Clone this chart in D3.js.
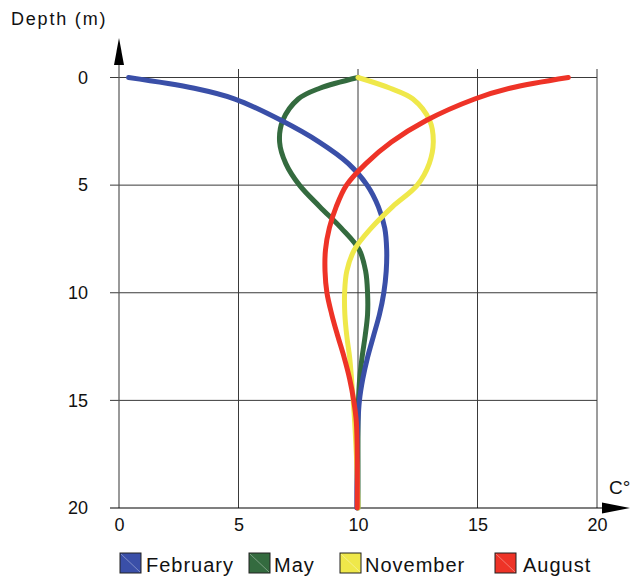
<!DOCTYPE html>
<html>
<head>
<meta charset="utf-8">
<script src="https://cdn.jsdelivr.net/npm/d3@7"></script>
<style>
  html, body { margin: 0; padding: 0; background: #fff; }
  svg { display: block; font-family: "Liberation Sans", Arial, sans-serif; }
</style>
</head>
<body>
<svg id="chart" width="631" height="576"></svg>
<script>
// Water temperature profiles by depth
const depths   = [0, 0.5, 1, 2, 3, 4, 5, 6, 7, 8, 9, 10, 11, 12, 13, 14, 15, 16, 18, 20];
const february = [0.4, 3.15, 4.85, 6.8, 8.38, 9.6, 10.38, 10.85, 11.12, 11.2, 11.18, 11.08, 10.9, 10.65, 10.4, 10.2, 10.06, 10.0, 9.96, 9.95];
const may      = [10.0, 8.4, 7.5, 6.85, 6.72, 6.98, 7.55, 8.4, 9.3, 10.05, 10.32, 10.4, 10.4, 10.3, 10.17, 10.07, 10.02, 10.0, 10.0, 10.0];
const november = [10.0, 11.35, 12.3, 13.0, 13.15, 12.98, 12.48, 11.45, 10.55, 9.85, 9.53, 9.44, 9.45, 9.53, 9.65, 9.73, 9.8, 9.86, 9.95, 10.0];
const august   = [18.8, 16.35, 14.88, 12.85, 11.4, 10.33, 9.52, 9.09, 8.8, 8.64, 8.62, 8.7, 8.9, 9.15, 9.42, 9.65, 9.82, 9.93, 9.97, 9.97];

const seriesNames  = ["February", "May", "November", "August"];
const seriesColors = ["#3a4fa8", "#346b3f", "#efe84a", "#ee3327"];
const seriesValues = [february, may, november, august];
// paint order of the profiles (last on top)
const drawOrder = [1, 0, 2, 3];

const tempTicks  = [0, 5, 10, 15, 20];
const depthTicks = [0, 5, 10, 15, 20];

const svg = d3.select("#chart");
const x = d3.scaleLinear().domain([0, 20]).range([119, 597]);
const y = d3.scaleLinear().domain([0, 20]).range([77.5, 508]);

const gridColor = "#3a3a3a";

// horizontal grid lines (with short tick stubs on the left)
svg.append("g").selectAll("line").data(depthTicks.slice(0, -1)).join("line")
  .attr("x1", 110).attr("x2", x(20))
  .attr("y1", d => y(d)).attr("y2", d => y(d))
  .attr("stroke", gridColor).attr("stroke-width", 1);

// vertical grid lines (extend slightly above the top row)
svg.append("g").selectAll("line").data(tempTicks.slice(1)).join("line")
  .attr("x1", d => x(d)).attr("x2", d => x(d))
  .attr("y1", 69).attr("y2", y(20))
  .attr("stroke", gridColor).attr("stroke-width", 1);

// depth axis with arrow
svg.append("line")
  .attr("x1", x(0)).attr("x2", x(0)).attr("y1", 62).attr("y2", y(20))
  .attr("stroke", "#555").attr("stroke-width", 1.2);
svg.append("path")
  .attr("d", `M${x(0)},38 L${x(0) - 5},65 L${x(0) + 5},65 Z`)
  .attr("fill", "#000");

// temperature axis with arrow
svg.append("line")
  .attr("x1", 110).attr("x2", 605).attr("y1", y(20)).attr("y2", y(20))
  .attr("stroke", "#000").attr("stroke-width", 1.2);
svg.append("path")
  .attr("d", `M602,${y(20) - 5.5} L630,${y(20)} L602,${y(20) + 5.5} Z`)
  .attr("fill", "#000");

// tick labels via d3 axes
const xAxis = d3.axisBottom(x).tickValues(tempTicks).tickSize(0).tickPadding(10)
  .tickFormat(d3.format("d"));
const gx = svg.append("g").attr("transform", `translate(0,${y(20)})`).call(xAxis);
gx.select(".domain").remove();
gx.selectAll("text").attr("font-size", 18).attr("fill", "#111")
  .attr("font-family", "Liberation Sans, Arial, sans-serif");

const yAxis = d3.axisLeft(y).tickValues(depthTicks).tickSize(0).tickPadding(31)
  .tickFormat(d3.format("d"));
const gy = svg.append("g").attr("transform", `translate(${x(0)},0)`).call(yAxis);
gy.select(".domain").remove();
gy.selectAll("text").attr("font-size", 18).attr("fill", "#111")
  .attr("font-family", "Liberation Sans, Arial, sans-serif");

// axis titles
svg.append("text").attr("x", 11).attr("y", 25)
  .attr("font-size", 18).attr("letter-spacing", 1.8).attr("fill", "#111")
  .text("Depth (m)");
svg.append("text").attr("x", 609).attr("y", 494)
  .attr("font-size", 19).attr("fill", "#111")
  .text("C°");

// temperature profiles
const line = d3.line()
  .x(d => x(d[1]))
  .y(d => y(d[0]))
  .curve(d3.curveCatmullRom.alpha(0.5));

svg.append("g").selectAll("path").data(drawOrder).join("path")
  .attr("d", i => line(depths.map((dp, k) => [dp, seriesValues[i][k]])))
  .attr("fill", "none")
  .attr("stroke", i => seriesColors[i])
  .attr("stroke-width", 5)
  .attr("stroke-linecap", "round")
  .attr("stroke-linejoin", "round");

// legend
const legendX = [120, 249, 340, 495];
const legendTextX = [146, 274, 365, 523];
const leg = svg.append("g").selectAll("g").data(seriesNames).join("g")
  .attr("transform", (d, i) => `translate(${legendX[i]},553)`);
leg.append("rect")
  .attr("width", 21).attr("height", 20)
  .attr("fill", (d, i) => seriesColors[i])
  .attr("stroke", "#222").attr("stroke-width", 1);
leg.append("line")
  .attr("x1", 1).attr("y1", 1).attr("x2", 20).attr("y2", 19)
  .attr("stroke", "#fff").attr("stroke-opacity", 0.35).attr("stroke-width", 1);
leg.append("text")
  .attr("x", (d, i) => legendTextX[i] - legendX[i]).attr("y", 18.5)
  .attr("font-size", 20).attr("letter-spacing", 1).attr("fill", "#111")
  .text(d => d);
</script>
</body>
</html>
